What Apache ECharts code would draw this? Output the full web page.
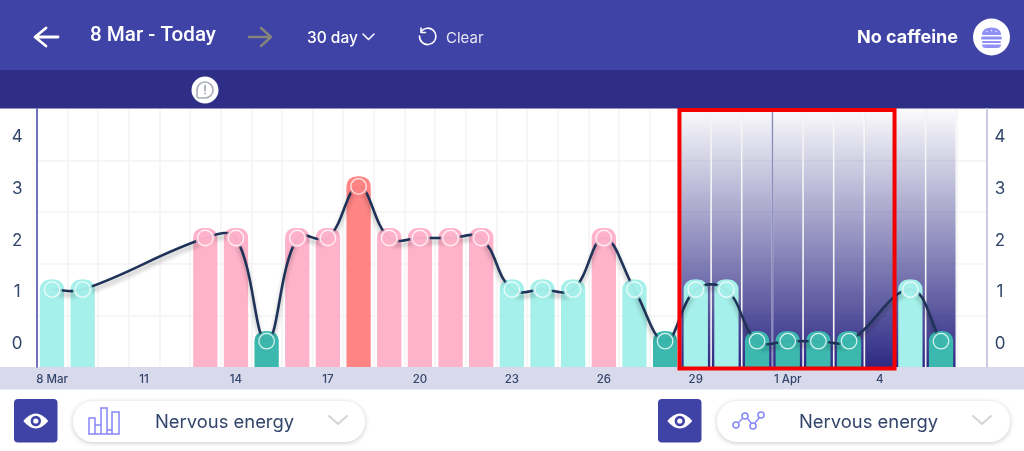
<!DOCTYPE html>
<html><head><meta charset="utf-8">
<style>html,body{margin:0;padding:0;background:#fff}#c{width:1024px;height:451px}</style>
<script src="https://cdn.jsdelivr.net/npm/echarts@6/dist/echarts.min.js"></script>
</head><body><div id="c"></div>
<script>
const dayLabels = ['8 Mar','9','10','11','12','13','14','15','16','17','18','19','20','21','22','23','24','25','26','27','28','29','30','31','1 Apr','2','3','4','5','6','7'];
const energy = [1,1,null,null,null,2,2,0,2,2,3,2,2,2,2,1,1,1,2,1,0,1,1,0,0,0,0,null,1,0,null];
const shadedDays = [21,22,23,24,25,26,27,28,29];
const framedDays = [21,27];
const monthStarts = [24];
const yTicks = [0,1,2,3,4];
const levelColors = ['#3cb8ae','#a5f0ea','#ffb3cb','#ff8585'];

const F = 'Inter, "Open Sans", sans-serif';
const ink = '#32456b';
const points = energy.map((v,i)=>[i,v]).filter(p=>p[1]!==null);

let iconId = 0;
function txt(x,y,t,size,weight,fill,align,font){return {type:'text',style:{x,y,text:t,font:`${weight} ${size}px ${font||F}`,fill,textAlign:align||'left',textVerticalAlign:'middle'}};}
function p(d,style){
  const name='icon'+(iconId++);
  echarts.graphic.registerShape(name,echarts.graphic.extendPath(d));
  return {type:name,style:Object.assign({fill:'none',lineCap:'round',lineJoin:'round'},style)};
}
function r(x,y,w,h,fill,rad,extra){return {type:'rect',shape:{x,y,width:w,height:h,r:rad||0},style:Object.assign({fill},extra||{})};}
function c(x,y,rad,style){return {type:'circle',shape:{cx:x,cy:y,r:rad},style};}
function eye(x,y){return [
  p(`M${x-12.5} ${y}Q${x} ${y-15} ${x+12.5} ${y}Q${x} ${y+15} ${x-12.5} ${y}Z`,{fill:'#fff'}),
  c(x,y,5.2,{fill:'#3f43a5'}),c(x,y,2.6,{fill:'#fff'})];}
function pill(x,w){return r(x,401,w,41,'#fff',20,{shadowColor:'rgba(0,0,0,.22)',shadowBlur:5,shadowOffsetY:1});}
function chev(x){return p(`M${x} 416L${x+9} 424L${x+18} 416`,{stroke:'#d4d4d4',lineWidth:2});}
const chrome = [
  r(0,0,1024,70,'#3f43a5'),
  r(0,70,1024,38.5,'#2e2e87'),
  r(0,367,1024,22.5,'#d9d9ec'),
  p('M58 37H36M46 28L35 37L46 46',{stroke:'#fff',lineWidth:2.8}),
  txt(90,36,'8 Mar - Today',20.6,500,'#fff','left','Roboto'),
  p('M271 37H249M261 28L271 37L261 46',{stroke:'#85857c',lineWidth:2.4}),
  txt(307,38,'30 day',15.5,500,'#fff'),
  p('M363 34L368.5 39.5L374 34',{stroke:'#fff',lineWidth:1.5}),
  p('M421.5 31A8.2 8.2 0 1 1 419.5 36M421 28V32.5H425.5',{stroke:'#fff',lineWidth:1.6}),
  txt(446,38,'Clear',15,400,'#e6e6f4'),
  txt(958,38,'No caffeine',18,700,'#fff','right'),
  c(991.5,37,18.5,{fill:'#fff'}),
  p('M982 35Q982 27.5 991.5 27.5Q1001 27.5 1001 35Z',{fill:'#8f8ff5'}),
  c(987,31.5,0.7,{fill:'#fff'}),c(991.5,30.5,0.7,{fill:'#fff'}),c(996,31.5,0.7,{fill:'#fff'}),
  r(981,36.5,21,3,'#8f8ff5',1.5),
  r(982,41,19,2,'#8f8ff5',1),
  p('M982 44.5H1001Q1001 48 997 48H986Q982 48 982 44.5Z',{fill:'#8f8ff5'}),
  c(205,90,13.5,{fill:'#fff'}),
  p('M197 96.5V90A8 8 0 1 1 205 98H198.5Z',{stroke:'#a9adb8',lineWidth:1.6}),
  p('M205 85.5V90.5M205 93.4V93.6',{stroke:'#a9adb8',lineWidth:1.8}),
  r(14,399,43.5,43.5,'#3f43a5',4),
  r(658,399,43.5,43.5,'#3f43a5',4),
  ...eye(35.8,421),...eye(679.8,421),
  pill(73,292),pill(717,293),
  p('M89 434V418H95V434M95 425H101V434M101 434V408H107V434M107 430H112V434M112 434V412H119V434ZM89 434H119',{stroke:'#8787fa',lineWidth:1.5,lineCap:'square',lineJoin:'miter'}),
  c(736,425,3,{stroke:'#8787fa',lineWidth:1.6,fill:'none'}),c(745,416,3,{stroke:'#8787fa',lineWidth:1.6,fill:'none'}),
  c(753,426,3,{stroke:'#8787fa',lineWidth:1.6,fill:'none'}),c(761,415,3,{stroke:'#8787fa',lineWidth:1.6,fill:'none'}),
  p('M739 422L742 419M748 419L751 423M755 423L759 418',{stroke:'#8787fa',lineWidth:1.4}),
  txt(155,422,'Nervous energy',18.4,400,ink),
  txt(799,422,'Nervous energy',18.4,400,ink),
  chev(329),chev(973),
];

const chart = echarts.init(document.getElementById('c'),null,{renderer:'canvas'});
const intFmt = v => yTicks.includes(v) ? `{n|${v}}` : '';
const valueAxis = (pos,lineColor,lineW) => ({type:'value',position:pos,min:-0.5,max:4.5,interval:0.5,
  axisLine:{show:true,lineStyle:{color:lineColor,width:lineW}},axisTick:{show:false},splitLine:{show:false},
  axisLabel:{formatter:intFmt,margin:pos==='left'?19.5:13,align:'center',
    rich:{n:{color:ink,fontFamily:F,fontSize:17,padding:[5,0,0,0],align:'center'}},
    showMinLabel:true,showMaxLabel:true,hideOverlap:false}});
function dayRect(api,i){
  const w=api.size([1,0])[0], x=api.coord([i,0])[0];
  return {x:x-w/2,w,top:api.coord([i,4.5])[1],bottom:api.coord([i,-0.5])[1]};
}
const TENSION = 0.4;
function handles(a,b,d){
  const d1=Math.hypot(b[0]-a[0],b[1]-a[1]), d2=Math.hypot(d[0]-b[0],d[1]-b[1]), s=(d1+d2)||1;
  const tx=d[0]-a[0], ty=d[1]-a[1];
  return {prev:[b[0]-TENSION*d1/s*tx,b[1]-TENSION*d1/s*ty],next:[b[0]+TENSION*d2/s*tx,b[1]+TENSION*d2/s*ty]};
}
chart.setOption({
  animation:false,
  graphic:{elements:chrome},
  grid:{left:36.7,right:37,top:109,bottom:84,containLabel:false},
  xAxis:{type:'category',data:dayLabels,boundaryGap:true,
    axisLine:{show:false},axisTick:{show:false},
    splitLine:{show:true,interval:0,lineStyle:{color:'#f3f3f5',width:1.5}},
    axisLabel:{interval:(i)=>i%3===0&&i<30,color:ink,fontFamily:F,fontSize:11.5,fontWeight:500,margin:7}},
  yAxis:[
    valueAxis('left','#4347a8',1.5),
    valueAxis('right','#cbcbe4',2),
    {type:'value',min:0,max:5,interval:1,show:true,position:'left',axisLine:{show:false},axisTick:{show:false},axisLabel:{show:false},
      splitLine:{show:true,showMinLine:false,showMaxLine:false,lineStyle:{color:'#f3f3f5',width:1.5}}}
  ],
  series:[
    {type:'custom',name:'shade',z:1,data:shadedDays.map(d=>[d]),encode:{x:0},clip:false,silent:true,
      renderItem(params,api){
        const b=dayRect(api,api.value(0));
        return {type:'rect',shape:{x:b.x+0.8,y:b.top,width:b.w-1.6,height:b.bottom-b.top},
          style:{fill:new echarts.graphic.LinearGradient(0,0,0,1,[{offset:0,color:'rgba(46,42,133,0.02)'},{offset:1,color:'rgba(46,42,133,1)'}])}};
      }},
    {type:'custom',name:'month',z:1.5,data:monthStarts.map(d=>[d]),encode:{x:0},silent:true,
      renderItem(params,api){
        const b=dayRect(api,api.value(0));
        return {type:'rect',shape:{x:b.x-0.7,y:b.top,width:1.4,height:b.bottom-b.top},style:{fill:'rgba(70,70,150,.6)'}};
      }},
    {type:'custom',name:'Nervous energy bars',z:2,data:points,encode:{x:0,y:1},clip:false,silent:true,
      renderItem(params,api){
        const i=api.value(0), v=api.value(1), b=dayRect(api,i), w=24.3;
        const top=api.coord([i,v])[1]-10;
        return {type:'rect',shape:{x:b.x+b.w/2-w/2,y:top,width:w,height:b.bottom-top,r:[9.5,9.5,0,0]},style:{fill:levelColors[v]}};
      }},
    {type:'custom',name:'Nervous energy',z:3,data:points,encode:{x:0,y:1},clip:false,silent:true,
      renderItem(params,api){
        const k=params.dataIndex;
        if(k===0) return null;
        const at=n=>api.coord(points[Math.max(0,Math.min(points.length-1,n))]);
        const a=at(k-2),b=at(k-1),d=at(k),e=at(k+1);
        const c1=handles(a,b,d).next, c2=handles(b,d,e).prev;
        return {type:'path',shape:{pathData:`M${b[0]} ${b[1]}C${c1[0]} ${c1[1]} ${c2[0]} ${c2[1]} ${d[0]} ${d[1]}`},
          style:{fill:'none',stroke:'#1f3358',lineWidth:2.6,shadowColor:'rgba(0,0,0,.3)',shadowBlur:4,shadowOffsetY:4}};
      }},
    {type:'scatter',z:4,data:points,symbolSize:20,silent:true,itemStyle:{color:o=>levelColors[o.value[1]]}},
    {type:'scatter',z:5,data:points,symbolSize:15.5,silent:true,
      itemStyle:{color:o=>levelColors[o.value[1]],borderColor:'#fff',borderWidth:1.3}},
    {type:'custom',name:'frame',z:9,data:[framedDays],encode:{x:[0,1]},clip:false,silent:true,
      renderItem(params,api){
        const a=dayRect(api,api.value(0)), z=dayRect(api,api.value(1));
        return {type:'rect',shape:{x:a.x-1,y:a.top+1,width:z.x+z.w-a.x+0.5,height:a.bottom-a.top+0.5},
          style:{fill:'none',stroke:'#f40000',lineWidth:4}};
      }}
  ]
});
</script></body></html>
